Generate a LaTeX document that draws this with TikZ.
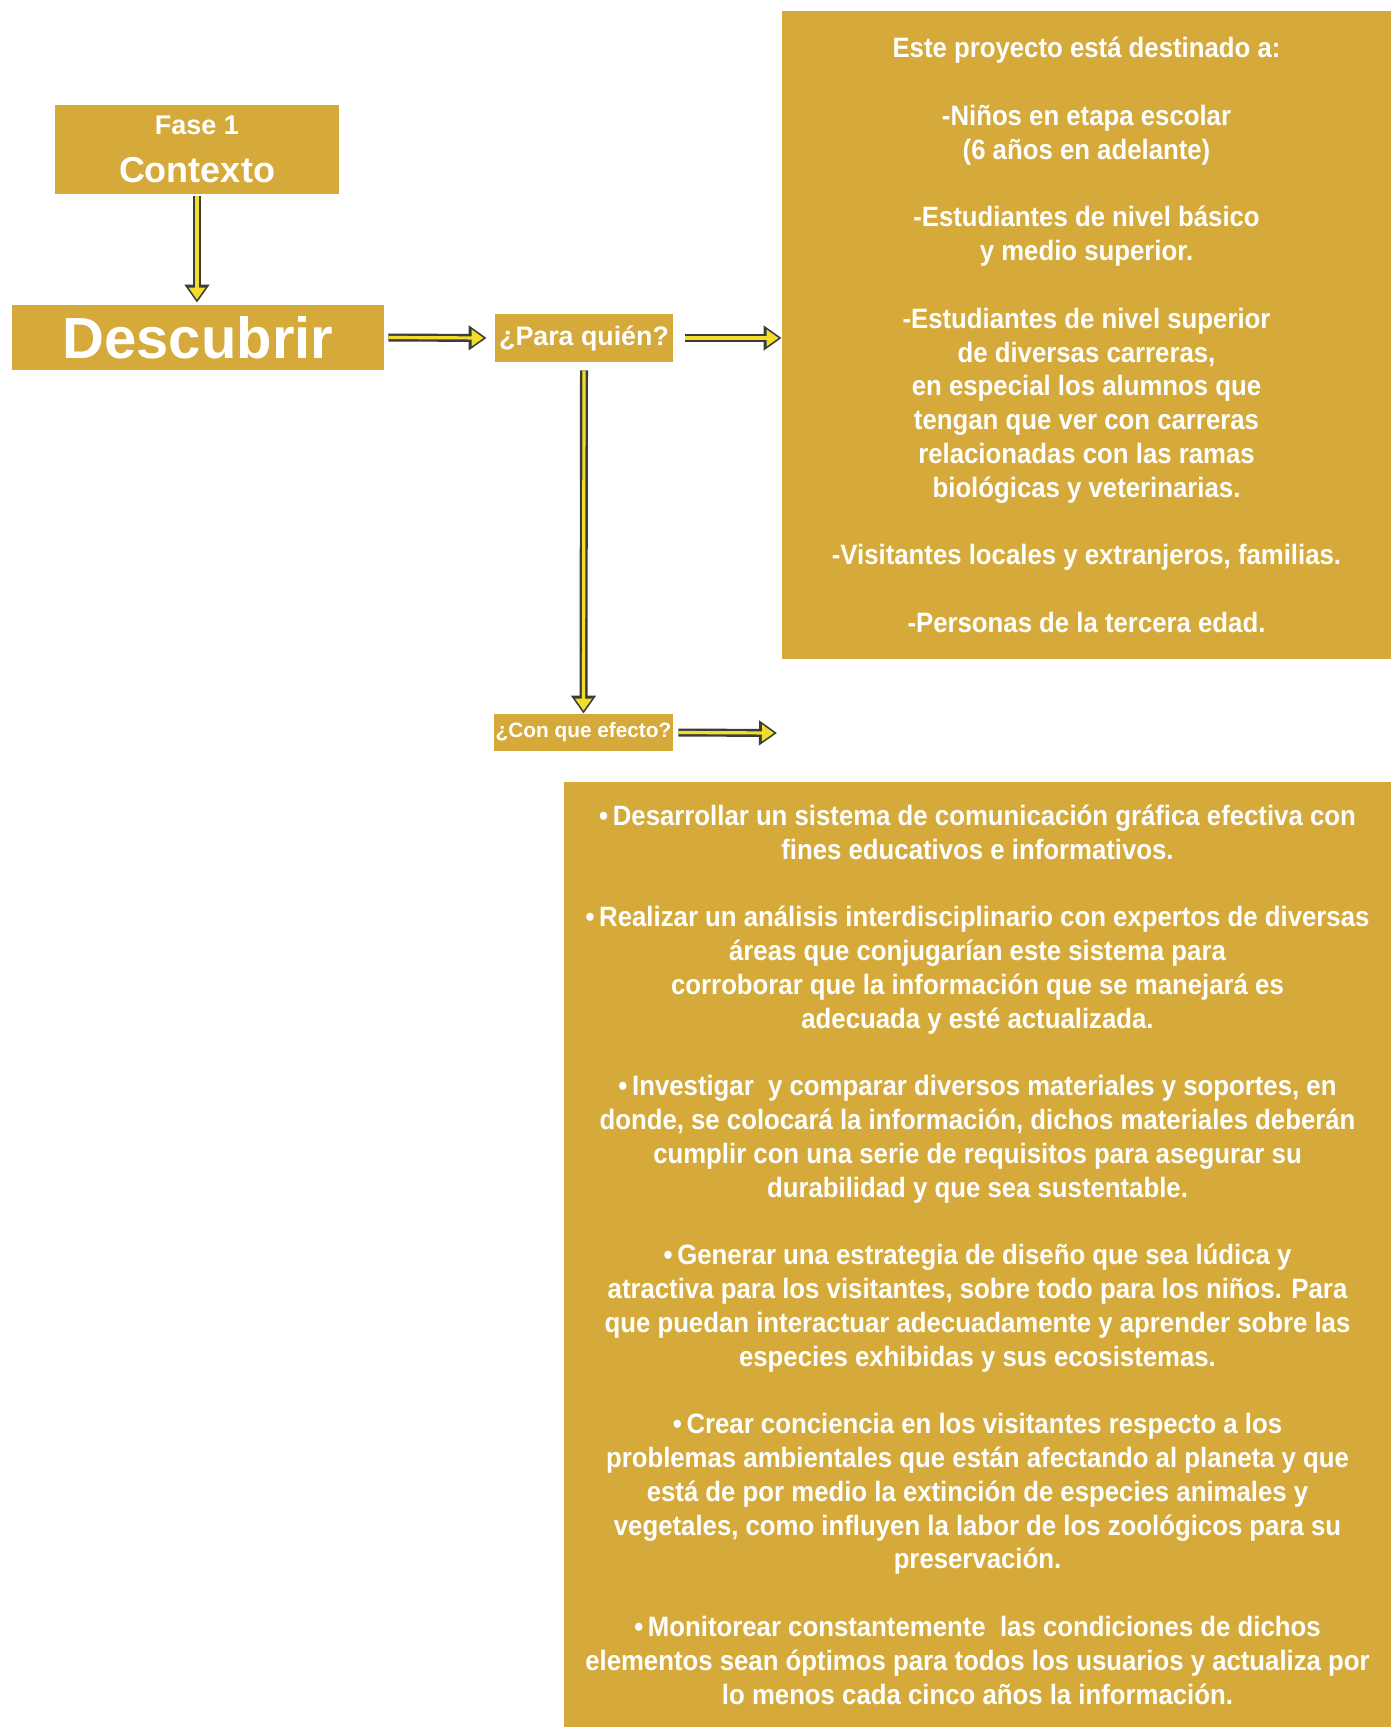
\documentclass[tikz,border=0pt]{standalone}
\usepackage{fontspec}
\usepackage{tikz}
\usetikzlibrary{arrows.meta}
\setmainfont{Liberation Sans}
\newfontfamily\estrecha[FakeStretch=0.92]{Liberation Sans}
\definecolor{oro}{HTML}{D5AA3A}
\definecolor{amar}{HTML}{F2DE2A}
\definecolor{borde}{HTML}{3C3C3C}
\newcommand{\hueco}{\\[16.9pt]}
\tikzset{
  caja/.style={fill=oro,text=white,inner sep=0pt,align=center,font=\bfseries},
  texto/.style={caja,font=\estrecha\bfseries\fontsize{14}{16.9}\selectfont},
  flecha/.style={borde,line width=4pt,-{Triangle[length=9pt,width=12pt]},
    postaction={draw=amar,line width=1.6pt,-{Triangle[length=6pt,width=8pt]},shorten >=1.5pt}},
}

\begin{document}
\begin{tikzpicture}[x=0.5pt,y=-0.5pt]
  \useasboundingbox (0,0) rectangle (1398,1727);
  \node[caja,minimum width=142pt,minimum height=44.5pt,font=\bfseries\fontsize{18}{24}\selectfont] (fase) at (197,149.5)
    {{\fontsize{13.5}{16}\selectfont Fase 1}\\Contexto};
  \node[caja,minimum width=186pt,minimum height=32.5pt,font=\bfseries\fontsize{29}{30}\selectfont] (desc) at (198,337.5) {Descubrir};
  \node[caja,minimum width=89pt,minimum height=24pt,font=\bfseries\fontsize{13.4}{15}\selectfont] (para) at (584,338) {¿Para quién?};
  \node[caja,minimum width=89.5pt,minimum height=18.5pt,font=\bfseries\fontsize{10.4}{12}\selectfont] (efecto) at (583.5,732.5) {¿Con que efecto?};
  \node[texto,minimum width=304.5pt,minimum height=324pt] (publico) at (1086.5,335) {Este proyecto está destinado a:\hueco
    -Niños en etapa escolar\\(6 años en adelante)\hueco
    -Estudiantes de nivel básico\\y medio superior.\hueco
    -Estudiantes de nivel superior\\de diversas carreras,\\en especial los alumnos que\\tengan que ver con carreras\\relacionadas con las ramas\\biológicas y veterinarias.\hueco
    -Visitantes locales y extranjeros, familias.\hueco
    -Personas de la tercera edad.};
  \node[texto,minimum width=413.5pt,minimum height=472.5pt] (objetivos) at (977.5,1254.5) {•\thinspace Desarrollar un sistema de comunicación gráfica efectiva con\\fines educativos e informativos.\hueco
    •\thinspace Realizar un análisis interdisciplinario con expertos de diversas\\áreas que conjugarían este sistema para\\corroborar que la información que se manejará es\\adecuada y esté actualizada.\hueco
    •\thinspace Investigar\ \ y comparar diversos materiales y soportes, en\\donde, se colocará la información, dichos materiales deberán\\cumplir con una serie de requisitos para asegurar su\\durabilidad y que sea sustentable.\hueco
    •\thinspace Generar una estrategia de diseño que sea lúdica y\\atractiva para los visitantes, sobre todo para los niños. Para\\que puedan interactuar adecuadamente y aprender sobre las\\especies exhibidas y sus ecosistemas.\hueco
    •\thinspace Crear conciencia en los visitantes respecto a los\\problemas ambientales que están afectando al planeta y que\\está de por medio la extinción de especies animales y\\vegetales, como influyen la labor de los zoológicos para su\\preservación.\hueco
    •\thinspace Monitorear constantemente\ \ las condiciones de dichos\\elementos sean óptimos para todos los usuarios y actualiza por\\lo menos cada cinco años la información.};
  \coordinate (fin) at (777,733);
  \draw[flecha] ([yshift=-1pt]fase.south) -- ([yshift=1pt]fase.south |- desc.north);
  \draw[flecha] ([xshift=2pt]desc.east) -- ([xshift=-4pt]para.west);
  \draw[flecha] ([xshift=6pt]para.east) -- (para.east -| publico.west);
  \draw[flecha] ([yshift=-4pt]para.south) -- (efecto.north);
  \draw[flecha] ([xshift=2.5pt]efecto.east) -- (fin);
\end{tikzpicture}
\end{document}
